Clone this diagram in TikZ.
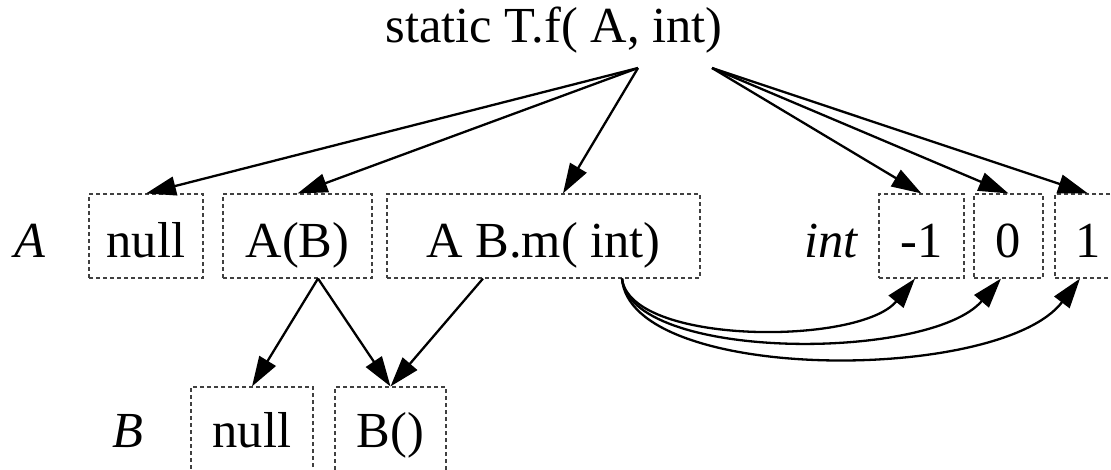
\documentclass[tikz,border=0pt]{standalone}
\usepackage{fontspec}
\setmainfont{Liberation Serif}
\usetikzlibrary{arrows.meta}
\begin{document}
\begin{tikzpicture}[x=1pt,y=-1pt,
  lbl/.style={font=\fontsize{50.5}{60}\selectfont, inner sep=0pt, text height=46pt, text depth=4pt},
  vbox/.style={lbl, draw=black!75, line width=1.1pt, dash pattern=on 4pt off 3pt, minimum height=84pt},
  lowrow/.style={text height=43pt, text depth=7pt},
  arr/.style={line width=2.3pt, -{Triangle[length=30pt,width=19pt]}},
  ]
\useasboundingbox (0,0) rectangle (1111,469);
% top
\node[lbl] (top) at (554,21) {static T.f( A, int)};
\coordinate (srcA) at (638,68);
\coordinate (srcI) at (712,68);
% row A
\node[lbl] (labA) at (30,236) {\itshape A};
\node[vbox, minimum width=114pt] (nullA) at (146,236) {null};
\node[vbox, minimum width=149pt] (ab) at (297.5,236) {A(B)};
\node[vbox, minimum width=313pt] (abm) at (543.5,236) {A B.m( int)};
\node[lbl] (labI) at (831,236) {\itshape int};
\node[vbox, minimum width=85pt] (m1) at (921.5,236) {-1};
\node[vbox, minimum width=69pt] (z0) at (1008.5,236) {0};
\node[vbox, minimum width=66pt] (p1) at (1088,236) {1};
% row B
\node[lbl, lowrow] (labB) at (128,429) {\itshape B};
\node[vbox, lowrow, minimum width=122pt] (nullB) at (252,429) {null};
\node[vbox, lowrow, minimum width=111pt] (bb) at (390.5,429) {B()};
% top arrows
\draw[arr] (srcA) -- (nullA.north);
\draw[arr] (srcA) -- (ab.north);
\draw[arr] (srcA) -- ([xshift=19.5pt]abm.north);
\draw[arr] (srcI) -- (m1.north);
\draw[arr] (srcI) -- (z0.north);
\draw[arr] (srcI) -- (p1.north);
% lower arrows
\draw[arr] ([xshift=20.5pt]ab.south) -- (nullB.north);
\draw[arr] ([xshift=20.5pt]ab.south) -- (bb.north);
\draw[arr] ([xshift=-60.5pt]abm.south) -- (bb.north);
% curves
\coordinate (cs) at ([xshift=78.5pt]abm.south);
\draw[arr] (cs) .. controls +(8,67) and +(-55,67) .. ([xshift=-6.5pt]m1.south);
\draw[arr] (cs) .. controls +(8,83) and +(-71,83) .. ([xshift=-7.5pt]z0.south);
\draw[arr] (cs) .. controls +(8,105) and +(-80,105) .. ([xshift=-8pt]p1.south);
\end{tikzpicture}
\end{document}
